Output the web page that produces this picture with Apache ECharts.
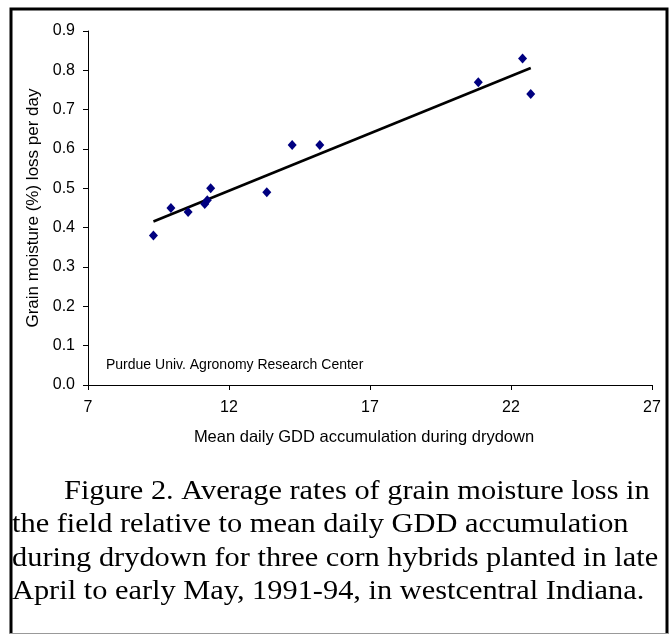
<!DOCTYPE html>
<html>
<head>
<meta charset="utf-8">
<script src="https://cdn.jsdelivr.net/npm/echarts@6/dist/echarts.min.js"></script>
<style>
html, body { margin: 0; padding: 0; background: #fff; }
#chart { width: 670px; height: 635px; }
</style>
</head>
<body>
<div id="chart"></div>
<script>
// mean daily GDD during drydown vs grain moisture loss (%/day)
var gdd = [9.32, 9.94, 10.55, 11.14, 11.23, 11.35, 13.34, 14.24, 15.22, 20.84, 22.41, 22.70];
var moistureLoss = [0.38, 0.45, 0.44, 0.46, 0.47, 0.50, 0.49, 0.61, 0.61, 0.77, 0.83, 0.74];
var xTicks = [7, 12, 17, 22, 27];
var yTicks = [0, 0.1, 0.2, 0.3, 0.4, 0.5, 0.6, 0.7, 0.8, 0.9];
var note = 'Purdue Univ. Agronomy Research Center';
var caption = [
    'Figure 2. Average rates of grain moisture loss in',
    'the field relative to mean daily GDD accumulation',
    'during drydown for three corn hybrids planted in late',
    'April to early May, 1991-94, in westcentral Indiana.'
];

// least squares trend line
function trend(xs, ys) {
    var n = xs.length, sx = 0, sy = 0, sxx = 0, sxy = 0;
    for (var i = 0; i < n; i++) {
        sx += xs[i]; sy += ys[i];
        sxx += xs[i] * xs[i]; sxy += xs[i] * ys[i];
    }
    var b = (n * sxy - sx * sy) / (n * sxx - sx * sx);
    var a = (sy - b * sx) / n;
    var x0 = Math.min.apply(null, xs), x1 = Math.max.apply(null, xs);
    return [[x0, a + b * x0], [x1, a + b * x1]];
}

var points = [];
for (var i = 0; i < gdd.length; i++) points.push([gdd[i], moistureLoss[i]]);

var sans = 'Liberation Sans, Arial, sans-serif';
var serif = 'Liberation Serif, Times New Roman, serif';

// caption is a wide book face in the original, so stretch a bit
var captionEls = caption.map(function (line, i) {
    return {
        type: 'text',
        x: i === 0 ? 64 : 12,
        y: 478 + Math.round(i * 33.4),
        scaleX: 1.125,
        style: {text: line, font: '27px ' + serif, fill: '#000'}
    };
});

var chart = echarts.init(document.getElementById('chart'));
var option = {
    backgroundColor: '#fff',
    animation: false,
    grid: {left: 88, right: 18, top: 31, bottom: 250},
    xAxis: {
        type: 'value',
        min: xTicks[0],
        max: xTicks[xTicks.length - 1],
        interval: xTicks[1] - xTicks[0],
        name: 'Mean daily GDD accumulation during drydown',
        nameLocation: 'middle',
        nameGap: 44,
        nameTextStyle: {color: '#000', fontFamily: sans, fontSize: 16.5, padding: [0, 12, 0, 0]},
        splitLine: {show: false},
        axisLine: {onZero: false, lineStyle: {color: '#000', width: 1}},
        axisTick: {length: 5, lineStyle: {color: '#000'}},
        axisLabel: {color: '#000', fontFamily: sans, fontSize: 16, margin: 15}
    },
    yAxis: {
        type: 'value',
        min: yTicks[0],
        max: yTicks[yTicks.length - 1],
        interval: 0.1,
        name: 'Grain moisture (%) loss per day',
        nameLocation: 'middle',
        nameGap: 46,
        nameTextStyle: {color: '#000', fontFamily: sans, fontSize: 17},
        splitLine: {show: false},
        axisLine: {show: true, lineStyle: {color: '#000', width: 1}},
        axisTick: {show: true, length: 5, lineStyle: {color: '#000'}},
        axisLabel: {
            color: '#000', fontFamily: sans, fontSize: 16, margin: 13,
            formatter: function (v) { return v.toFixed(1); }
        }
    },
    series: [
        {
            name: 'trend',
            type: 'line',
            data: trend(gdd, moistureLoss),
            symbol: 'none',
            lineStyle: {color: '#000', width: 2.6},
            z: 2
        },
        {
            name: 'hybrids',
            type: 'scatter',
            data: points,
            symbol: 'diamond',
            symbolSize: [9, 10],
            itemStyle: {color: '#000080', opacity: 1},
            z: 3
        }
    ],
    graphic: [
        {
            type: 'text',
            left: 106,
            top: 358,
            style: {text: note, font: '14px ' + sans, fill: '#000'}
        },
        {
            type: 'polyline',
            shape: {points: [[11, 633], [11, 9], [667, 9], [667, 633]]},
            style: {stroke: '#000', lineWidth: 3, fill: null}
        },
        {
            type: 'line',
            shape: {x1: 9, y1: 633.5, x2: 669, y2: 633.5},
            style: {stroke: '#999', lineWidth: 1}
        }
    ].concat(captionEls)
};
chart.setOption(option);
</script>
</body>
</html>
